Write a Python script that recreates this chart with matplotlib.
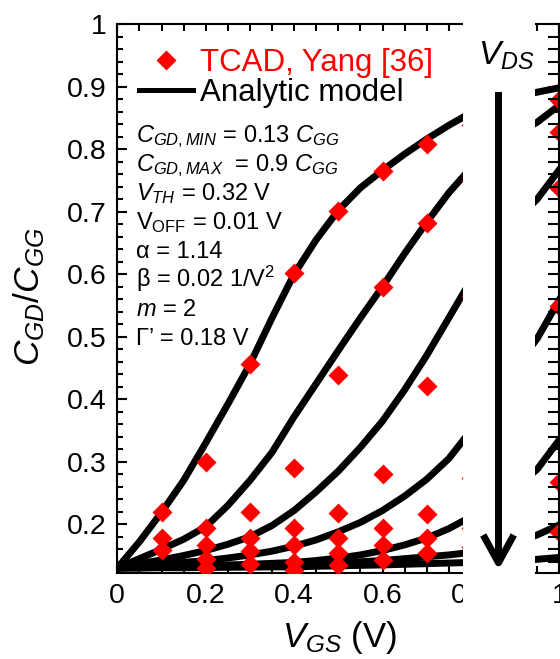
import numpy as np
import matplotlib
matplotlib.use("Agg")
import matplotlib.pyplot as plt
from matplotlib.ticker import MultipleLocator, FuncFormatter
from matplotlib.lines import Line2D
from matplotlib.patches import Rectangle, FancyArrowPatch

plt.rcParams['font.family'] = ['Liberation Sans', 'DejaVu Sans']
plt.rcParams['mathtext.fontset'] = 'custom'
plt.rcParams['mathtext.rm'] = 'Liberation Sans'
plt.rcParams['mathtext.it'] = 'Liberation Sans:italic'
plt.rcParams['mathtext.bf'] = 'Liberation Sans:bold'

# analytic model curves, VDS increasing from c1 to c7
vgs_model = [0.00, 0.05, 0.10, 0.15, 0.20, 0.25, 0.30, 0.35, 0.40, 0.45, 0.50,
             0.55, 0.60, 0.65, 0.70, 0.75, 0.80, 0.85, 0.90, 0.95, 1.00]
c1 = [0.130, 0.172, 0.219, 0.270, 0.330, 0.392, 0.456, 0.530, 0.600, 0.655, 0.702,
      0.738, 0.766, 0.792, 0.816, 0.838, 0.858, 0.872, 0.883, 0.891, 0.898]
c2 = [0.130, 0.145, 0.160, 0.176, 0.196, 0.230, 0.270, 0.315, 0.372, 0.425, 0.478,
      0.530, 0.580, 0.633, 0.683, 0.730, 0.770, 0.800, 0.823, 0.843, 0.870]
c3 = [0.130, 0.137, 0.143, 0.150, 0.158, 0.168, 0.180, 0.198, 0.222, 0.252, 0.285,
      0.323, 0.365, 0.415, 0.470, 0.530, 0.590, 0.640, 0.685, 0.720, 0.767]
c4 = [0.130, 0.133, 0.136, 0.139, 0.142, 0.146, 0.151, 0.157, 0.165, 0.175, 0.188,
      0.203, 0.222, 0.245, 0.272, 0.305, 0.350, 0.400, 0.450, 0.497, 0.559]
c5 = [0.130, 0.131, 0.132, 0.133, 0.134, 0.135, 0.136, 0.1375, 0.139, 0.142, 0.146,
      0.151, 0.158, 0.167, 0.178, 0.193, 0.212, 0.235, 0.258, 0.288, 0.335]
c6 = [0.130, 0.1305, 0.131, 0.1315, 0.132, 0.1325, 0.133, 0.134, 0.135, 0.136, 0.138,
      0.140, 0.142, 0.145, 0.148, 0.151, 0.155, 0.162, 0.170, 0.183, 0.199]
c7 = [0.130, 0.130, 0.1305, 0.1305, 0.131, 0.1312, 0.1315, 0.1318, 0.132, 0.1328, 0.1335,
      0.1343, 0.135, 0.136, 0.137, 0.138, 0.139, 0.140, 0.142, 0.144, 0.147]

# TCAD points (Yang [36]); nan = no point
vgs_tcad = [0.1, 0.2, 0.3, 0.4, 0.5, 0.6, 0.7, 0.8, 1.0]
nan = np.nan
t1 = [0.219, 0.300, 0.456, 0.602, 0.701, 0.765, 0.808, 0.838, 0.878]
t2 = [0.178, 0.194, 0.219, 0.290, 0.438, 0.580, 0.682, 0.749, 0.827]
t3 = [0.159, 0.167, 0.178, 0.194, 0.218, 0.280, 0.421, 0.565, 0.737]
t4 = [nan, 0.144, 0.158, 0.167, 0.178, 0.194, 0.216, 0.274, 0.549]
t5 = [nan, 0.130, 0.136, 0.140, 0.154, 0.167, 0.178, 0.194, 0.268]
t6 = [nan, nan, nan, 0.127, 0.135, 0.143, 0.154, 0.163, 0.188]

params = [r'$C_{GD,MIN}$ = 0.13 $C_{GG}$',
          r'$C_{GD,MAX}$  = 0.9 $C_{GG}$',
          r'$V_{TH}$ = 0.32 V',
          r'V$_{\mathrm{OFF}}$ = 0.01 V',
          'α = 1.14',
          r'β = 0.02 1/V$^2$',
          r'$m$ = 2',
          'Γ’ = 0.18 V']

W, H = 560, 659
def fbox(x0, y0, x1, y1):
    return [x0 / W, 1 - y1 / H, (x1 - x0) / W, (y1 - y0) / H]

fig = plt.figure(figsize=(W / 100, H / 100), dpi=100)
ax = fig.add_axes(fbox(117.3, 24, 117.3 + 1.3 * 442, 573.3))
ax.set_xlim(0, 1.3)
ax.set_ylim(0.1216, 1.0)

for c in [c1, c2, c3, c4, c5, c6, c7]:
    ax.plot(vgs_model, c, color='black', lw=5, zorder=2)
for t in [t1, t2, t3, t4, t5, t6]:
    ax.plot(vgs_tcad, t, ls='none', marker='D', ms=10, color='red', mec='none', zorder=3)

fmt = FuncFormatter(lambda v, p: '%g' % round(v, 2))
ax.xaxis.set_major_locator(MultipleLocator(0.2))
ax.xaxis.set_minor_locator(MultipleLocator(0.05))
ax.yaxis.set_major_locator(MultipleLocator(0.1))
ax.yaxis.set_minor_locator(MultipleLocator(0.02))
ax.xaxis.set_major_formatter(fmt)
ax.yaxis.set_major_formatter(fmt)
ax.tick_params(axis='both', which='both', direction='in', width=1.5, labelsize=20.5)
ax.tick_params(axis='x', which='both', top=True, length=5, pad=7)
ax.tick_params(axis='y', which='major', length=7, pad=8)
ax.tick_params(axis='y', which='minor', length=4.5)
for s in ['left', 'bottom', 'top']:
    ax.spines[s].set_linewidth(1.5)
ax.spines['right'].set_visible(False)

handles = [Line2D([], [], ls='none', marker='D', ms=10, color='red', mec='none'),
           Line2D([], [], color='black', lw=3.6)]
leg = ax.legend(handles, ['TCAD, Yang [36]', 'Analytic model'], loc='upper left',
                bbox_to_anchor=(139 / W, 1 - 48 / H), bbox_transform=fig.transFigure,
                frameon=False, fontsize=22.5, handlelength=1.74, handletextpad=0.22,
                labelspacing=0.0, borderpad=0, borderaxespad=0)
leg.get_texts()[0].set_color('red')

for i, s in enumerate(params):
    fig.text(136 / W, 1 - (141.7 + 29.05 * i) / H, s, fontsize=17, va='baseline')

fig.text(29 / W, 1 - 297 / H, r'$C_{GD}/C_{GG}$', rotation=90, fontsize=25.5,
         ha='center', va='center')
fig.text(340 / W, 1 - 647 / H, r'$V_{GS}$ (V)', fontsize=25, ha='center', va='baseline')

# blank strip with the V_DS arrow
fig.add_artist(Rectangle((463 / W, 0), (535 - 463) / W, 1, transform=fig.transFigure,
                         facecolor='white', edgecolor='none', zorder=5))
fig.add_artist(FancyArrowPatch((498.5 / W, 1 - 92 / H), (498.5 / W, 1 - 570 / H),
                               transform=fig.transFigure,
                               arrowstyle='->,head_length=1.0,head_width=0.55',
                               mutation_scale=20, lw=5, color='black',
                               shrinkA=0, shrinkB=0, capstyle='butt', zorder=6))
fig.text(506 / W, 1 - 65 / H, r'$V_{DS}$', fontsize=24, ha='center', va='baseline', zorder=7)

# vertical axis line of the right part, at VGS = 1
ax2 = fig.add_axes(fbox(559.3, 24, 660, 573.3))
ax2.set_ylim(0.1216, 1.0)
ax2.patch.set_alpha(0)
for s in ['top', 'right', 'bottom']:
    ax2.spines[s].set_visible(False)
ax2.spines['left'].set_linewidth(1.5)
ax2.set_xticks([])
ax2.yaxis.set_major_locator(MultipleLocator(0.1))
ax2.yaxis.set_minor_locator(MultipleLocator(0.02))
ax2.tick_params(axis='y', which='both', direction='out', width=1.5, length=8, labelleft=False)

fig.savefig('out.png', dpi=100)
